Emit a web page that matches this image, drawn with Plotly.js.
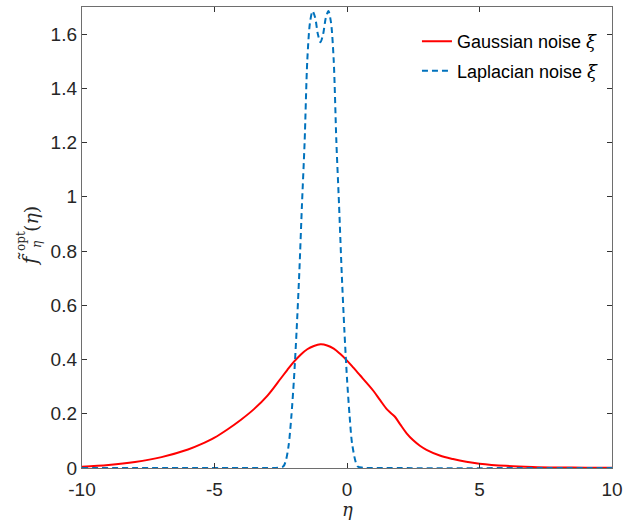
<!DOCTYPE html>
<html>
<head>
<meta charset="utf-8">
<script src="https://cdn.plot.ly/plotly-3.0.1.min.js"></script>
<style>html,body{margin:0;padding:0;background:#fff;}#chart{width:641px;height:521px;}</style>
</head>
<body>
<div id="chart"></div>
<script>
// Gaussian noise curve
const etaGauss = [-10, -9, -8, -7, -6, -5.5, -5, -4.5, -4, -3.5, -3, -2.5, -2.25, -2, -1.75, -1.5, -1.25, -1, -0.75, -0.5, -0.25, 0, 0.25, 0.5, 0.75, 1, 1.25, 1.5, 1.65, 1.8, 2, 2.25, 2.5, 2.75, 3, 3.5, 4, 4.5, 5, 6, 7, 8, 9, 10];
const fGauss   = [0.005, 0.011, 0.022, 0.04, 0.068, 0.088, 0.112, 0.143, 0.178, 0.218, 0.267, 0.33, 0.362, 0.392, 0.418, 0.438, 0.45, 0.456, 0.452, 0.44, 0.42, 0.396, 0.369, 0.341, 0.313, 0.284, 0.25, 0.217, 0.203, 0.19, 0.162, 0.128, 0.102, 0.082, 0.067, 0.046, 0.033, 0.023, 0.016, 0.008, 0.004, 0.002, 0.001, 0.0005];

// Laplacian noise curve
const etaLap = [-10, -3, -2.6, -2.4, -2.3, -2.2, -2.1, -2.0, -1.9, -1.8, -1.7, -1.6, -1.5, -1.4, -1.3, -1.2, -1.1, -1.0, -0.9, -0.8, -0.7, -0.6, -0.5, -0.4, -0.3, -0.2, -0.1, 0, 0.1, 0.2, 0.4, 0.6, 1, 10];
const fLap   = [0, 0, 0.001, 0.006, 0.03, 0.085, 0.19, 0.33, 0.51, 0.72, 0.97, 1.2, 1.5, 1.64, 1.685, 1.66, 1.6, 1.57, 1.6, 1.66, 1.685, 1.64, 1.5, 1.2, 0.97, 0.72, 0.51, 0.33, 0.19, 0.085, 0.006, 0.001, 0, 0];

const seriesNames = ['Gaussian noise <i style="font-family:\'DejaVu Serif\',serif">ξ</i>', 'Laplacian noise <i style="font-family:\'DejaVu Serif\',serif">ξ</i>'];

const xTickVals = [-10, -5, 0, 5, 10];
const xTickText = ['-10', '-5', '0', '5', '10'];
const yTickVals = [0, 0.2, 0.4, 0.6, 0.8, 1, 1.2, 1.4, 1.6];
const yTickText = ['0', '0.2', '0.4', '0.6', '0.8', '1', '1.2', '1.4', '1.6'];

const traces = [
  {x: etaGauss, y: fGauss, type: 'scatter', mode: 'lines', name: seriesNames[0], legendgroup: 'g1',
   line: {color: '#FF0000', width: 2, shape: 'spline', smoothing: 1}},
  {x: etaLap, y: fLap, type: 'scatter', mode: 'lines', name: seriesNames[1], legendgroup: 'g2',
   line: {color: '#0072BD', width: 2, dash: '6px,4px', shape: 'spline', smoothing: 0.8}}
];

const axisCommon = {
  showgrid: false, zeroline: false, showline: true, linecolor: '#6e6e6e', linewidth: 1.2,
  mirror: 'ticks', ticks: 'inside', ticklen: 5, tickcolor: '#333', tickwidth: 1,
  tickfont: {family: 'Liberation Sans, Arial, sans-serif', size: 19, color: '#262626'},
  tickmode: 'array'
};

// plot-area pixel helpers for title annotations (paper coordinates)
const L = 82, T = 7, W = 530, H = 461;
const px = p => (p - L) / W;
const py = p => (T + H - p) / H;
const serif = 'DejaVu Serif, serif';

const annotations = [
  {text: '<i>η</i>', x: px(347), y: py(510), font: {family: serif, size: 18, color: '#262626'}},
  {text: '<i>f̃</i>', x: px(30), y: py(259), textangle: -90, font: {family: serif, size: 20, color: '#262626'}},
  {text: 'opt', x: px(21), y: py(241), textangle: -90, font: {family: serif, size: 12, color: '#262626'}},
  {text: '<i>η</i>', x: px(37), y: py(244), textangle: -90, font: {family: serif, size: 12, color: '#262626'}},
  {text: '(<i>η</i>)', x: px(31), y: py(219), textangle: -90, font: {family: serif, size: 19, color: '#262626'}}
].map(a => Object.assign({xref: 'paper', yref: 'paper', showarrow: false, xanchor: 'center', yanchor: 'middle'}, a));

const layout = {
  width: 641, height: 521,
  margin: {l: L, r: 641 - L - W, t: T, b: 521 - T - H},
  paper_bgcolor: '#fff', plot_bgcolor: '#fff',
  showlegend: true,
  legend: {x: 0.632, y: 0.965, xanchor: 'left', yanchor: 'top', bgcolor: 'rgba(255,255,255,0)',
           borderwidth: 0, traceorder: 'grouped', tracegroupgap: 3,
           font: {family: 'Liberation Sans, Arial, sans-serif', size: 18, color: '#000'}},
  xaxis: Object.assign({}, axisCommon, {range: [-10, 10], tickvals: xTickVals, ticktext: xTickText, ticklabelstandoff: 4}),
  yaxis: Object.assign({}, axisCommon, {range: [0, 1.7], tickvals: yTickVals, ticktext: yTickText}),
  annotations: annotations
};

Plotly.newPlot('chart', traces, layout, {displayModeBar: false, staticPlot: true});
</script>
</body>
</html>
